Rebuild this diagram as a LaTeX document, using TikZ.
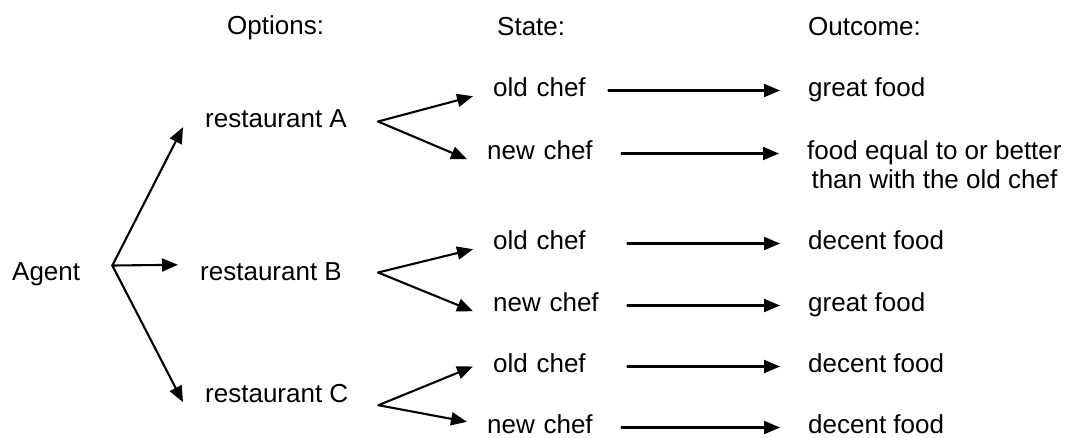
\documentclass[tikz,border=0pt]{standalone}
\usepackage{fontspec}
\setmainfont{Liberation Sans}
\usepackage{tikz}
\usetikzlibrary{positioning,arrows.meta}

\begin{document}
\begin{tikzpicture}[
    x=1pt,y=-1pt,
    font=\fontsize{26}{29}\selectfont,
    lbl/.style ={inner sep=0pt,text height=11pt,text depth=0pt,anchor=base west},
    hd/.style  ={lbl},
    opt/.style ={lbl,inner xsep=22pt,text height=15pt},
    st/.style  ={lbl,inner xsep=20pt,text width=114pt,align=left},
    outc/.style={lbl,inner xsep=28pt},
    arr/.style ={line width=2.1pt,line cap=round,-{Triangle[length=16pt,width=13pt]}},
    ]
    \useasboundingbox (0,0) rectangle (1070,437);

    \node[hd] (hopt) at (227,34) {Options:};
    \node[hd] (hst)  at (497,35) {State:};
    \node[hd] (hout) at (808,35) {Outcome:};

    \node[lbl] (agent) at (12,280) {Agent};
    \node[opt] (resA) at (183,127) {restaurant A};
    \node[opt] (resB) at (178,280) {restaurant B};
    \node[opt] (resC) at (183,402) {restaurant C};

    \node[st] (oldA) at (473,96)  {old chef};
    \node[st] (newA) at (467,159) {new chef};
    \node[st] (oldB) at (473,249) {old chef};
    \node[st] (newB) at (473,311) {new chef};
    \node[st] (oldC) at (473,372) {old chef};
    \node[st] (newC) at (467,433) {new chef};

    \node[outc] (outA1) at (780,96)  {great food};
    \node[outc] (outA2) at (779,159)
      {\begin{tabular}[t]{@{}c@{}}food equal to or better\\than with the old chef\end{tabular}};
    \node[outc] (outB1) at (780,249) {decent food};
    \node[outc] (outB2) at (780,311) {great food};
    \node[outc] (outC1) at (780,372) {decent food};
    \node[outc] (outC2) at (780,433) {decent food};

    \coordinate (fork)  at ([xshift=32pt,yshift=9pt]agent.east);
    \coordinate (forkA) at ([xshift=9pt,yshift=-2pt]resA.east);
    \coordinate (forkB) at ([xshift=14pt]resB.east);
    \coordinate (forkC) at ([xshift=8pt,yshift=-3pt]resC.south east);

    \draw[arr] (fork) -- (resA.south west);
    \draw[arr] (fork) -- (resB.north west);
    \draw[arr] (fork) -- (resC.south west);

    \draw[arr] (forkA) -- (oldA.south west);
    \draw[arr] (forkA) -- (newA.south west);
    \draw[arr] (forkB) -- (oldB.south west);
    \draw[arr] (forkB) -- (newB.south west);
    \draw[arr] (forkC) -- (oldC.west);
    \draw[arr] (forkC) -- (newC.north west);

    \draw[arr,shorten <=-19pt] (oldA) -- (outA1);
    \draw[arr] (newA) -- (outA2);
    \draw[arr] (oldB) -- (outB1);
    \draw[arr] (newB) -- (outB2);
    \draw[arr] (oldC) -- (outC1);
    \draw[arr] (newC) -- (outC2);
\end{tikzpicture}
\end{document}
